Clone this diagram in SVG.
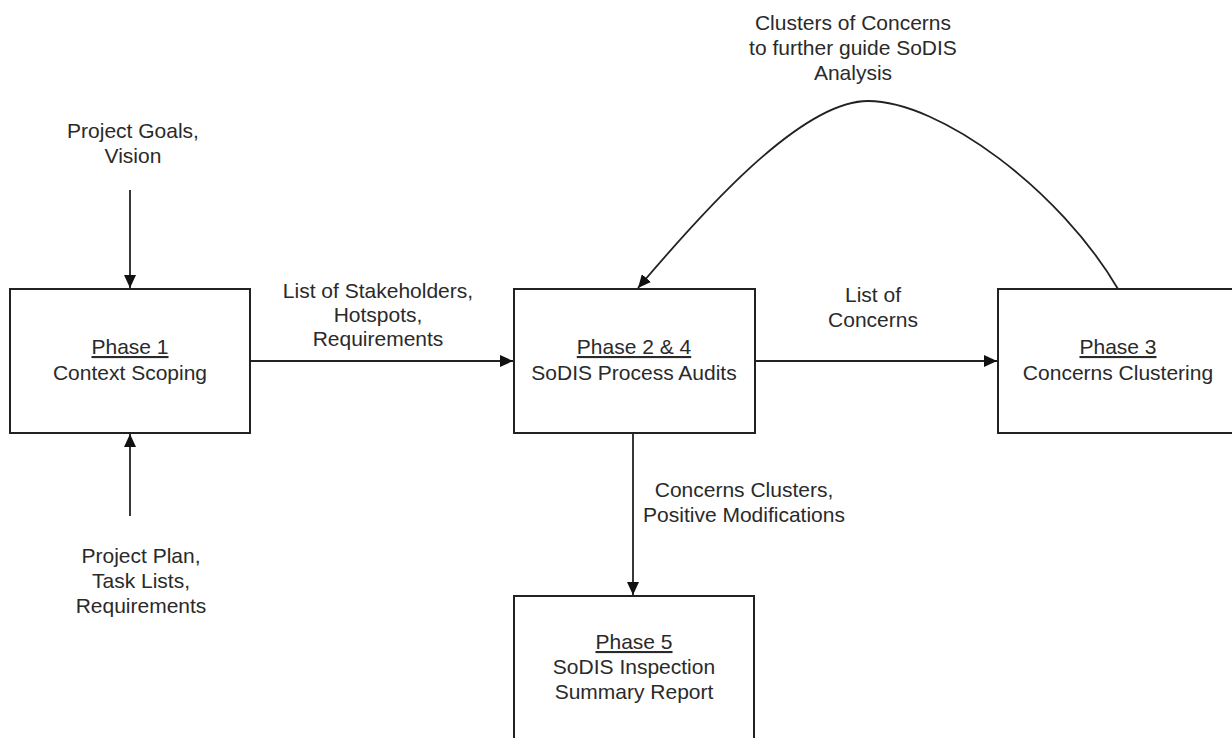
<svg xmlns="http://www.w3.org/2000/svg" width="1232" height="738" viewBox="0 0 1232 738">
<defs>
<style>
.box{fill:#fff;stroke:#222;stroke-width:2}
.ln{fill:none;stroke:#222;stroke-width:1.8}
text{font-family:"Liberation Sans",Arial,sans-serif;font-size:21px;fill:#2a2a2a;text-anchor:middle}
.u{text-decoration:underline}
</style>
<marker id="ah" markerUnits="userSpaceOnUse" markerWidth="14" markerHeight="12" refX="13" refY="6" orient="auto">
<path d="M0,0 L13,6 L0,12 z" fill="#111"/>
</marker>
</defs>
<rect width="1232" height="738" fill="#fff"/>
<g id="connectors">
<line class="ln" x1="130" y1="190" x2="130" y2="288" marker-end="url(#ah)"/>
<line class="ln" x1="130" y1="516" x2="130" y2="434" marker-end="url(#ah)"/>
<line class="ln" x1="251" y1="361" x2="513" y2="361" marker-end="url(#ah)"/>
<line class="ln" x1="756" y1="361" x2="997" y2="361" marker-end="url(#ah)"/>
<line class="ln" x1="633" y1="434" x2="633" y2="595" marker-end="url(#ah)"/>
<path class="ln" d="M1118,289 C1060,190 940,101 868,101 C800,101 700,215 638,288" marker-end="url(#ah)"/>
<text x="133" y="138">Project Goals,</text>
<text x="133" y="163">Vision</text>
<text x="141" y="563">Project Plan,</text>
<text x="141" y="588">Task Lists,</text>
<text x="141" y="613">Requirements</text>
<text x="378" y="298">List of Stakeholders,</text>
<text x="378" y="322">Hotspots,</text>
<text x="378" y="346">Requirements</text>
<text x="873" y="302">List of</text>
<text x="873" y="327">Concerns</text>
<text x="744" y="497">Concerns Clusters,</text>
<text x="744" y="522">Positive Modifications</text>
<text x="853" y="30">Clusters of Concerns</text>
<text x="853" y="55">to further guide SoDIS</text>
<text x="853" y="80">Analysis</text>
</g>
<g id="phase1">
<rect class="box" x="10" y="289" width="240" height="144"/>
<text x="130" y="354" class="u">Phase 1</text>
<text x="130" y="380">Context Scoping</text>
</g>
<g id="phase24">
<rect class="box" x="514" y="289" width="241" height="144"/>
<text x="634" y="354" class="u">Phase 2 &amp; 4</text>
<text x="634" y="380">SoDIS Process Audits</text>
</g>
<g id="phase3">
<rect class="box" x="998" y="289" width="240" height="144"/>
<text x="1118" y="354" class="u">Phase 3</text>
<text x="1118" y="380">Concerns Clustering</text>
</g>
<g id="phase5">
<rect class="box" x="514" y="596" width="240" height="160"/>
<text x="634" y="649" class="u">Phase 5</text>
<text x="634" y="674">SoDIS Inspection</text>
<text x="634" y="699">Summary Report</text>
</g>
</svg>
